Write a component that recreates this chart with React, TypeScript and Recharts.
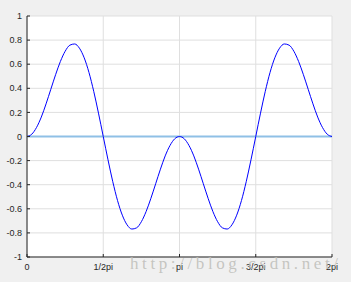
import React from 'react';
import { LineChart, Line, XAxis, YAxis, CartesianGrid } from 'recharts';

const curveValues: number[] = [
  0, 0.019, 0.075, 0.161, 0.271, 0.392, 0.513, 0.622, 0.707, 0.758, 0.768, 0.733, 0.653, 0.532, 0.375, 0.194, 0,
  -0.194, -0.375, -0.532, -0.653, -0.733, -0.768, -0.758, -0.707, -0.622, -0.513, -0.392, -0.271, -0.161, -0.075, -0.019, 0,
  -0.019, -0.075, -0.161, -0.271, -0.392, -0.513, -0.622, -0.707, -0.758, -0.768, -0.733, -0.653, -0.532, -0.375, -0.194, 0,
  0.194, 0.375, 0.532, 0.653, 0.733, 0.768, 0.758, 0.707, 0.622, 0.513, 0.392, 0.271, 0.161, 0.075, 0.019, 0,
];
const zeroValue = 0;

const xTicks: number[] = [0, 0.5, 1, 1.5, 2];
const xTickLabels: string[] = ['0', '1/2pi', 'pi', '3/2pi', '2pi'];
const yTicks: number[] = [-1, -0.8, -0.6, -0.4, -0.2, 0, 0.2, 0.4, 0.6, 0.8, 1];
const watermark = 'http://blog.csdn.net/';

const data = curveValues.map((v, i) => ({ x: (i * 2) / (curveValues.length - 1), y: v, zero: zeroValue }));

const axisColor = '#262626';
const tickStyle = { fontSize: 9, fill: axisColor, fontFamily: 'Liberation Sans, Arial, sans-serif' };

export default function App() {
  return (
    <div style={{ position: 'fixed', left: 0, top: 0, width: 351, height: 282, background: '#f0f0f0' }}>
      <LineChart width={351} height={282} data={data} margin={{ top: 16, right: 19, left: 0, bottom: 0 }}>
        <CartesianGrid stroke="#dfdfdf" fill="#ffffff" />
        <XAxis
          dataKey="x"
          type="number"
          domain={[0, 2]}
          ticks={xTicks}
          tickFormatter={(v: number) => xTickLabels[xTicks.indexOf(v)] ?? ''}
          height={25}
          tickSize={-3}
          tickMargin={10}
          stroke={axisColor}
          tick={tickStyle}
          interval={0}
        />
        <XAxis
          xAxisId="top"
          orientation="top"
          dataKey="x"
          type="number"
          domain={[0, 2]}
          ticks={xTicks}
          tickFormatter={() => ''}
          height={0}
          tickSize={-3}
          stroke={axisColor}
          interval={0}
        />
        <YAxis
          type="number"
          domain={[-1, 1]}
          ticks={yTicks}
          width={27}
          tickSize={-3}
          tickMargin={8}
          stroke={axisColor}
          tick={tickStyle}
          interval={0}
        />
        <YAxis
          yAxisId="r"
          orientation="right"
          type="number"
          domain={[-1, 1]}
          ticks={yTicks}
          width={0}
          tickSize={-3}
          tickFormatter={() => ''}
          stroke={axisColor}
          interval={0}
        />
        <Line
          xAxisId="top"
          yAxisId="r"
          dataKey="zero"
          stroke="#8fc0e6"
          strokeWidth={2}
          dot={false}
          isAnimationActive={false}
          type="linear"
        />
        <Line
          dataKey="y"
          stroke="#0000ff"
          strokeWidth={1}
          dot={false}
          isAnimationActive={false}
          type="monotone"
        />
      </LineChart>
      <svg width={351} height={282} style={{ position: 'absolute', left: 0, top: 0, pointerEvents: 'none' }}>
        <text
          x={130}
          y={269}
          fontFamily="Liberation Serif, Times New Roman, serif"
          fontSize={17}
          fill="#bdbdb8"
          fillOpacity={0.85}
          textLength={208}
          lengthAdjust="spacing"
        >
          {watermark}
        </text>
      </svg>
    </div>
  );
}
